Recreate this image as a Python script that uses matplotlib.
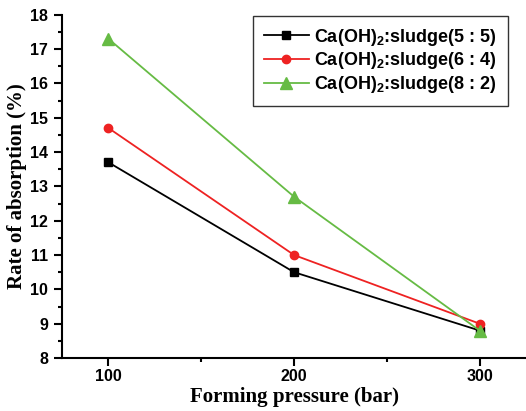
import numpy as np
import matplotlib.pyplot as plt
from matplotlib.ticker import MultipleLocator

plt.rcParams['mathtext.fontset'] = 'custom'
plt.rcParams['mathtext.rm'] = 'Liberation Sans:bold'
plt.rcParams['mathtext.bf'] = 'Liberation Sans:bold'

pressure = [100, 200, 300]
ratio_55 = [13.7, 10.5, 8.8]
ratio_64 = [14.7, 11.0, 9.0]
ratio_82 = [17.3, 12.7, 8.8]
labels = ['Ca(OH)$_2$:sludge(5 : 5)', 'Ca(OH)$_2$:sludge(6 : 4)', 'Ca(OH)$_2$:sludge(8 : 2)']

fig = plt.figure(figsize=(5.26, 4.11), dpi=100)
ax = fig.add_axes([0.118, 0.129, 0.882, 0.835])

ax.plot(pressure, ratio_55, color='black', marker='s', ms=5.5, lw=1.3, label=labels[0])
ax.plot(pressure, ratio_64, color='#ee2222', marker='o', ms=6, lw=1.3, label=labels[1])
ax.plot(pressure, ratio_82, color='#66bb44', marker='^', ms=8, lw=1.3, label=labels[2])

ax.set_xlim(75, 325)
ax.set_ylim(8, 18)
ax.set_xticks(pressure)
ax.xaxis.set_minor_locator(MultipleLocator(50))
ax.yaxis.set_major_locator(MultipleLocator(1))
ax.yaxis.set_minor_locator(MultipleLocator(0.5))
ax.spines['top'].set_visible(False)
ax.spines['right'].set_visible(False)
for s in ['left', 'bottom']:
    ax.spines[s].set_linewidth(1.5)
ax.tick_params(which='major', direction='out', length=6, width=1.5, labelsize=11.5)
ax.tick_params(which='minor', direction='out', length=3, width=1.5)
for lab in ax.get_xticklabels() + ax.get_yticklabels():
    lab.set_fontfamily('Liberation Sans')
    lab.set_fontweight('bold')
ax.tick_params(axis='x', pad=2)
ax.tick_params(axis='y', pad=4)

ax.set_xlabel('Forming pressure (bar)', fontfamily='Liberation Serif', fontweight='bold',
              fontsize=15, labelpad=2)
ax.set_ylabel('Rate of absorption (%)', fontfamily='Liberation Serif', fontweight='bold',
              fontsize=15, labelpad=2)

leg = ax.legend(loc='upper right', bbox_to_anchor=(0.961, 0.997), frameon=True, fancybox=False,
                edgecolor='black', prop={'family': 'Liberation Sans', 'weight': 'bold', 'size': 13},
                handlelength=2.5, handletextpad=0.3, borderpad=0.6, labelspacing=0.15,
                borderaxespad=0)
leg.get_frame().set_linewidth(1.0)

fig.savefig('out.png', dpi=100)
